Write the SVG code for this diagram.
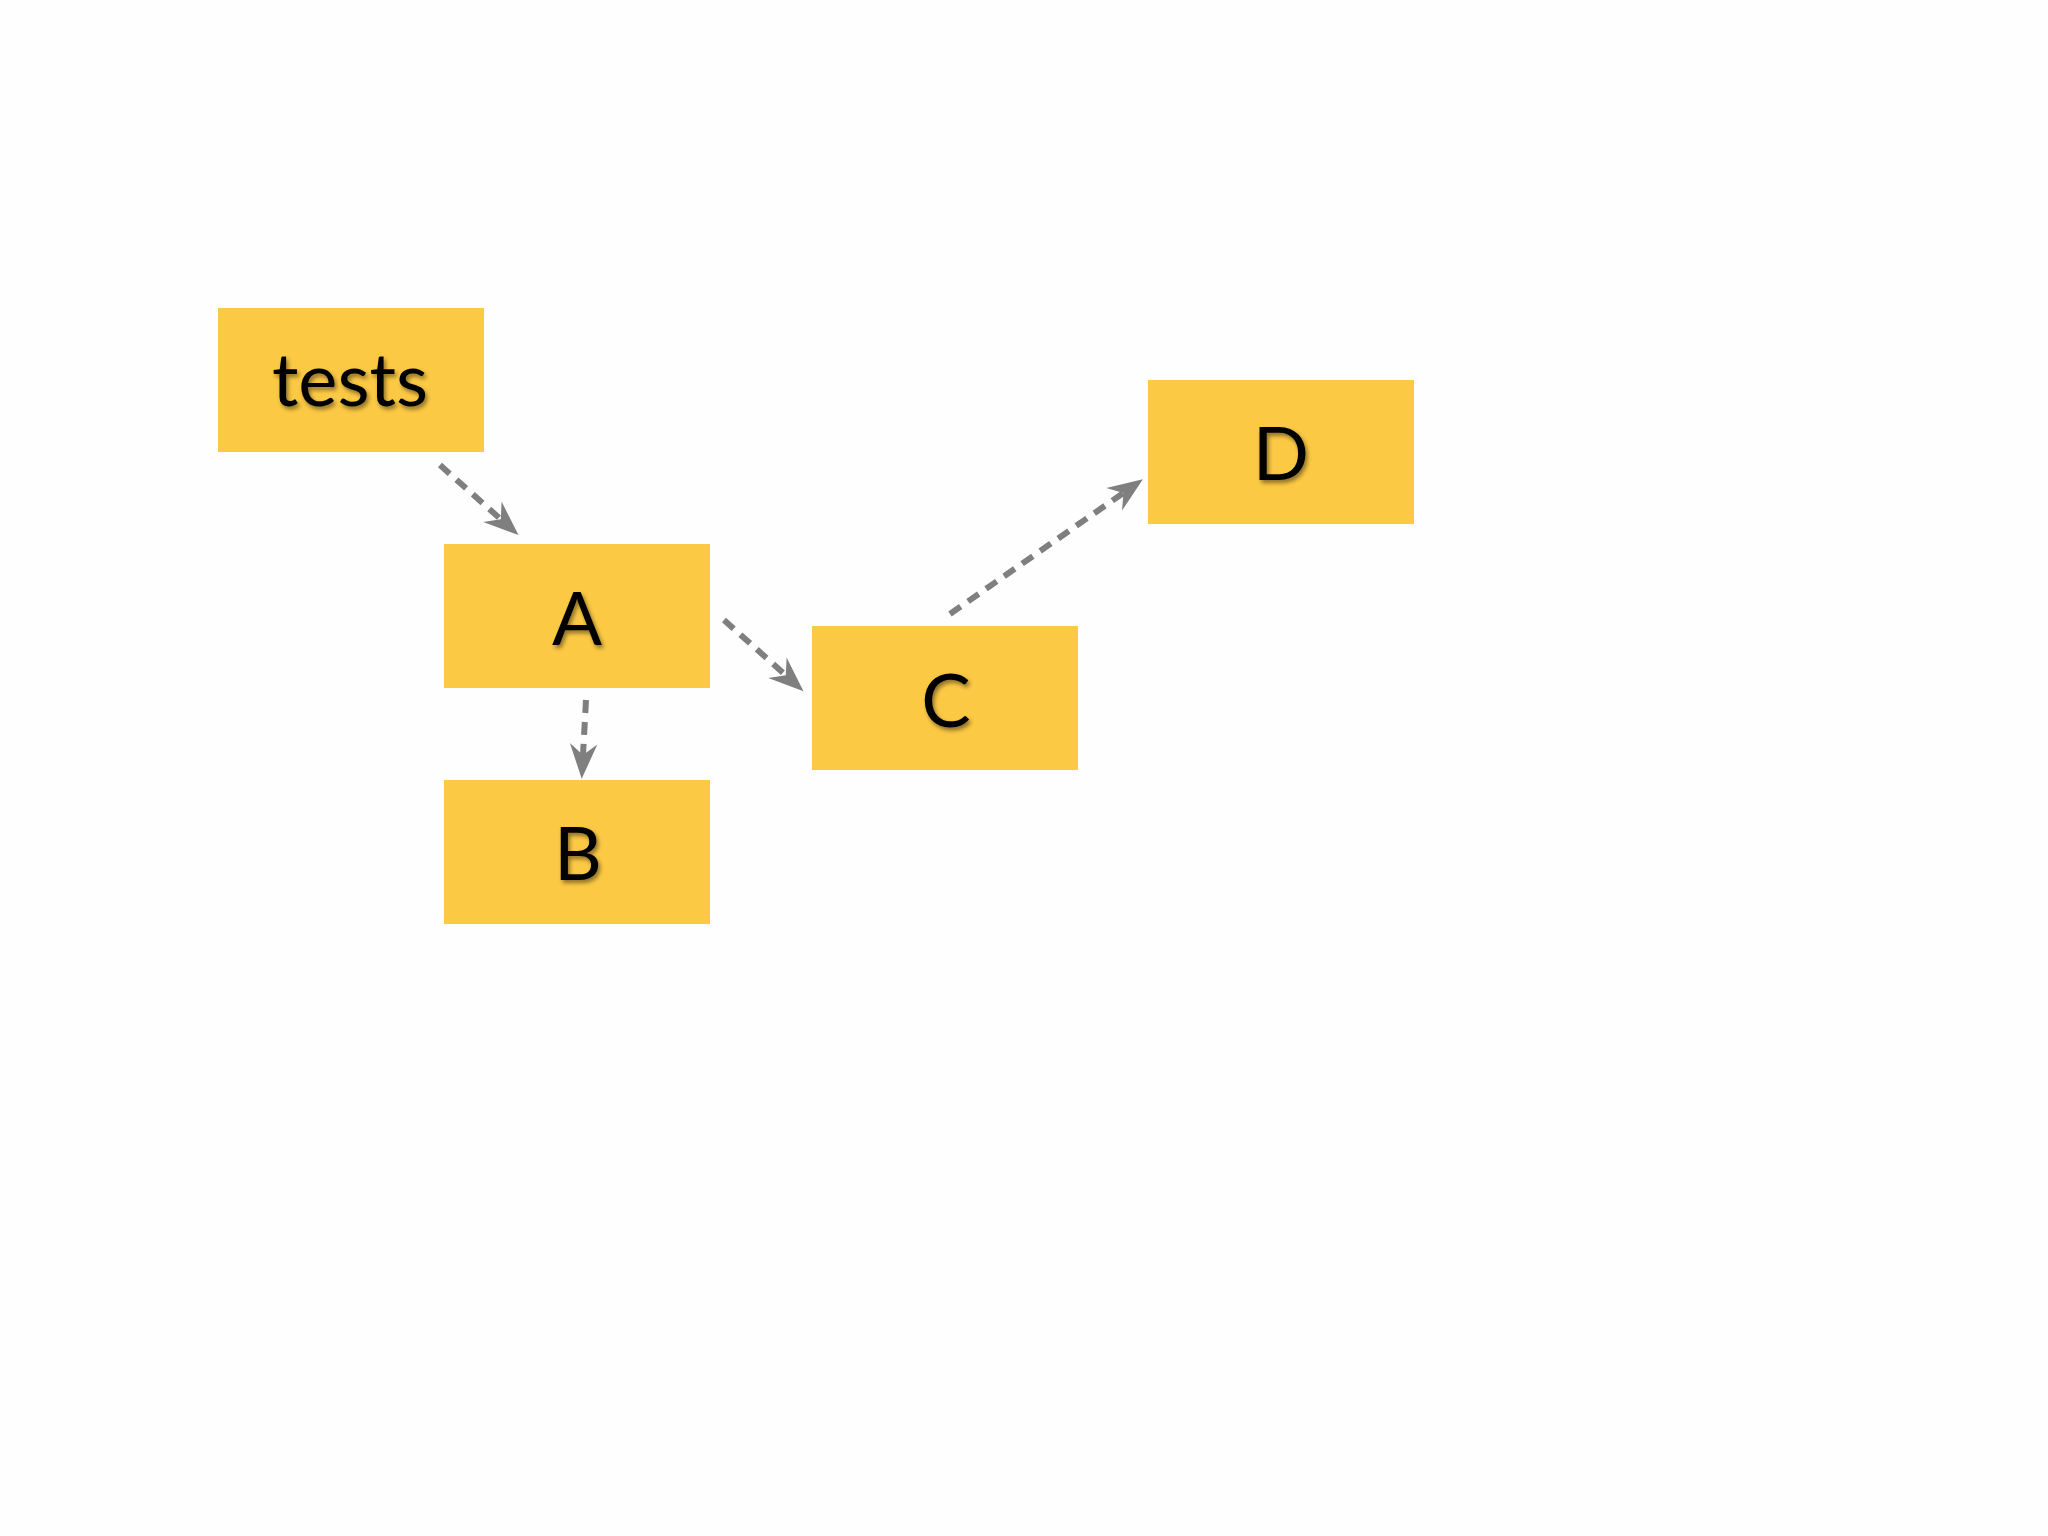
<svg xmlns="http://www.w3.org/2000/svg" width="2048" height="1536" viewBox="0 0 2048 1536">
  <defs>
    <style>
      .box { fill: #FCC944; }
      .lbl { font-family: Lato, "Open Sans", "Liberation Sans", sans-serif; font-size: 74px; fill: #000; text-anchor: middle; filter: url(#shadow); }
      .edge { stroke: #7F7F7F; stroke-width: 6; stroke-dasharray: 13 9; fill: none; marker-end: url(#arrow); }
    </style>
    <filter id="shadow" x="-20%" y="-20%" width="140%" height="140%">
      <feDropShadow dx="2" dy="3" stdDeviation="2" flood-color="#000" flood-opacity="0.45"/>
    </filter>
    <marker id="arrow" markerUnits="userSpaceOnUse" markerWidth="40" markerHeight="40" viewBox="-30 -15 32 30" refX="-19" refY="0" orient="auto">
      <path d="M0,0 L-28,-11 L-19,0 L-28,11 Z" fill="#7F7F7F"/>
    </marker>
  </defs>
  <rect width="2048" height="1536" fill="#FEFEFE"/>
  <g id="connectors">
    <line class="edge" x1="440" y1="465" x2="500.8" y2="519.3"/>
    <line class="edge" x1="586" y1="700" x2="583" y2="755"/>
    <line class="edge" x1="724" y1="620" x2="785.8" y2="675.3"/>
    <line class="edge" x1="950" y1="614" x2="1123.4" y2="492.9"/>
  </g>
  <g id="node-tests">
    <rect class="box" x="218" y="308" width="266" height="144"/>
    <text class="lbl" x="350" y="406">tests</text>
  </g>
  <g id="node-A">
    <rect class="box" x="444" y="544" width="266" height="144"/>
    <text class="lbl" x="577" y="645">A</text>
  </g>
  <g id="node-B">
    <rect class="box" x="444" y="780" width="266" height="144"/>
    <text class="lbl" x="578" y="880">B</text>
  </g>
  <g id="node-C">
    <rect class="box" x="812" y="626" width="266" height="144"/>
    <text class="lbl" x="946" y="727">C</text>
  </g>
  <g id="node-D">
    <rect class="box" x="1148" y="380" width="266" height="144"/>
    <text class="lbl" x="1281" y="480">D</text>
  </g>
</svg>
